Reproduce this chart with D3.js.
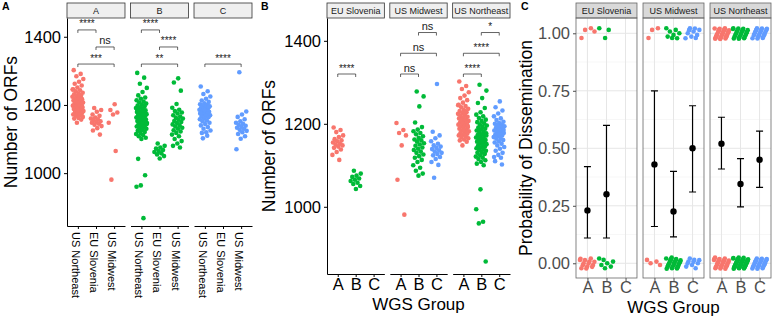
<!DOCTYPE html>
<html>
<head>
<meta charset="utf-8">
<script src="https://cdn.jsdelivr.net/npm/d3@7"></script>
<style>
  body { margin: 0; background: #fff; }
  svg { font-family: "Liberation Sans", Arial, sans-serif; }
</style>
</head>
<body>
<svg id="chart" width="774" height="317"></svg>
<script>
// categories
const groups = ["A", "B", "C"];
const regionsInGroup = ["US Northeast", "EU Slovenia", "US Midwest"];   // x order, panel A
const regionFacets = ["EU Slovenia", "US Midwest", "US Northeast"];     // facet order, panels B and C
const groupColor = { A: "#F8766D", B: "#00BA38", C: "#619CFF" };

// number of ORFs per isolate
const orfNortheastA = [1302, 1291, 1284, 1276, 1268, 1262, 1257, 1251, 1246, 1243, 1240, 1236, 1233, 1231,
  1228, 1226, 1224, 1221, 1219, 1217, 1215, 1213, 1211, 1209, 1207, 1205, 1203, 1202, 1200, 1198, 1196,
  1194, 1192, 1190, 1188, 1186, 1184, 1182, 1180, 1178, 1176, 1174, 1172, 1170, 1168, 1165, 1162, 1160,
  1157, 1148, 1245, 1230, 1210, 1195, 1185];
const orfNortheastB = [1294, 1280, 1262, 1250, 1238, 1228, 1222, 1218, 1214, 1210, 1207, 1204, 1201, 1198,
  1196, 1193, 1191, 1188, 1186, 1184, 1181, 1179, 1177, 1175, 1173, 1171, 1169, 1167, 1165, 1163, 1161,
  1159, 1157, 1155, 1153, 1151, 1149, 1147, 1145, 1143, 1141, 1139, 1137, 1135, 1132, 1130, 1127, 1124,
  1121, 1118, 1115, 1112, 1108, 1104, 1100, 1186, 1172, 1158, 1144, 1128, 1042, 994, 964, 960, 868];
const orfNortheastC = [1254, 1240, 1232, 1225, 1218, 1213, 1209, 1205, 1202, 1200, 1198, 1196, 1194, 1192,
  1190, 1188, 1186, 1184, 1182, 1180, 1178, 1176, 1174, 1172, 1170, 1168, 1166, 1164, 1161, 1158, 1155,
  1152, 1148, 1144, 1140, 1135, 1130, 1125, 1120, 1118, 1195, 1185, 1175, 1110, 1102];
const orfSloveniaA = [1191, 1185, 1180, 1172, 1168, 1163, 1160, 1158, 1155, 1152, 1150, 1148, 1145, 1142,
  1138, 1132, 1125, 1113];
const orfSloveniaB = [1087, 1080, 1075, 1072, 1068, 1065, 1062, 1058, 1055, 1050, 1043];
const orfMidwestA = [1202, 1185, 1178, 1172, 1148, 1065, 981];
const orfMidwestB = [1278, 1266, 1242, 1203, 1192, 1186, 1182, 1178, 1175, 1170, 1166, 1162, 1160, 1157,
  1153, 1150, 1147, 1143, 1140, 1137, 1133, 1130, 1126, 1122, 1118, 1113, 1108, 1100, 1094, 1087, 1080, 1075];
const orfMidwestC = [1296, 1181, 1172, 1165, 1158, 1152, 1148, 1145, 1142, 1139, 1136, 1133, 1130, 1127,
  1124, 1120, 1115, 1108, 1101, 1070];

const orfSets = [
  { region: "US Northeast", group: "A", values: orfNortheastA },
  { region: "US Northeast", group: "B", values: orfNortheastB },
  { region: "US Northeast", group: "C", values: orfNortheastC },
  { region: "EU Slovenia", group: "A", values: orfSloveniaA },
  { region: "EU Slovenia", group: "B", values: orfSloveniaB },
  { region: "US Midwest", group: "A", values: orfMidwestA },
  { region: "US Midwest", group: "B", values: orfMidwestB },
  { region: "US Midwest", group: "C", values: orfMidwestC }
];

const orfTicks = [1000, 1200, 1400];
const bracketLevels = [1320, 1370, 1420];

// pairwise tests, panel A (within WGS group)
const compsByGroup = [
  { facet: "A", a: "US Northeast", b: "EU Slovenia", label: "****", level: 2 },
  { facet: "A", a: "EU Slovenia", b: "US Midwest", label: "ns", level: 1 },
  { facet: "A", a: "US Northeast", b: "US Midwest", label: "***", level: 0 },
  { facet: "B", a: "US Northeast", b: "EU Slovenia", label: "****", level: 2 },
  { facet: "B", a: "EU Slovenia", b: "US Midwest", label: "****", level: 1 },
  { facet: "B", a: "US Northeast", b: "US Midwest", label: "**", level: 0 },
  { facet: "C", a: "US Northeast", b: "US Midwest", label: "****", level: 0 }
];
// pairwise tests, panel B (within region)
const compsByRegion = [
  { facet: "EU Slovenia", a: "A", b: "B", label: "****", level: 0 },
  { facet: "US Midwest", a: "A", b: "B", label: "ns", level: 0 },
  { facet: "US Midwest", a: "A", b: "C", label: "ns", level: 1 },
  { facet: "US Midwest", a: "B", b: "C", label: "ns", level: 2 },
  { facet: "US Northeast", a: "A", b: "B", label: "****", level: 0 },
  { facet: "US Northeast", a: "A", b: "C", label: "****", level: 1 },
  { facet: "US Northeast", a: "B", b: "C", label: "*", level: 2 }
];

// panel C: dissemination (rows = regionFacets, cols = groups)
const dissemYes = [[4, 3, 0], [3, 8, 10], [29, 24, 20]];
const dissemNo = [[14, 7, 0], [4, 27, 10], [27, 46, 25]];
const probMean = [[0.23, 0.30, null], [0.43, 0.225, 0.50], [0.52, 0.345, 0.45]];
const probLow = [[0.11, 0.11, null], [0.16, 0.115, 0.31], [0.41, 0.245, 0.33]];
const probHigh = [[0.42, 0.60, null], [0.75, 0.40, 0.685], [0.635, 0.455, 0.575]];
const probTicks = [0, 0.25, 0.5, 0.75, 1];
const probMinor = [0.125, 0.375, 0.625, 0.875];

const svg = d3.select("#chart");

// deterministic spread for overlapping points, returns -0.5..0.5
function jit(i, seed) {
  return ((i * 0.6180339887 + seed) % 1) - 0.5;
}

function panelLabel(x, t) {
  svg.append("text").attr("x", x).attr("y", 10)
    .attr("font-size", 10.5).attr("font-weight", "bold").text(t);
}

function orfPanel(o) {
  const y = d3.scaleLinear().domain(o.domain).range([o.bottom, o.top]);
  const fx = d3.scaleBand().domain(o.facets).range([o.left, o.right]).paddingInner(o.gap);
  const x = d3.scalePoint().domain(o.cats).range([0, fx.bandwidth()]).padding(0.6);
  const g = svg.append("g");

  o.facets.forEach(f => {
    const fg = g.append("g").attr("transform", `translate(${fx(f)},0)`);

    // strip
    fg.append("rect").attr("x", 0).attr("y", 3).attr("width", fx.bandwidth()).attr("height", 15)
      .attr("fill", "#efefef").attr("stroke", "#333").attr("stroke-width", 0.8);
    fg.append("text").attr("x", fx.bandwidth() / 2).attr("y", 13.5)
      .attr("text-anchor", "middle").attr("font-size", 9).attr("fill", "#1a1a1a").text(f);

    // points
    orfSets.filter(s => s[o.facetKey] === f).forEach((s, k) => {
      fg.selectAll(null).data(s.values).enter().append("circle")
        .attr("cx", (d, i) => x(s[o.catKey]) + jit(i, 0.13 + k * 0.21) * 0.62 * x.step())
        .attr("cy", d => y(d))
        .attr("r", 2.3)
        .attr("fill", groupColor[s.group]);
    });

    // brackets
    o.comps.filter(c => c.facet === f).forEach(c => {
      const yb = y(bracketLevels[c.level]);
      const xa = x(c.a), xb = x(c.b);
      fg.append("path")
        .attr("d", `M${xa},${yb + 3}V${yb}H${xb}V${yb + 3}`)
        .attr("fill", "none").attr("stroke", "#222").attr("stroke-width", 0.7);
      fg.append("text").attr("x", (xa + xb) / 2).attr("y", yb - 2.5)
        .attr("text-anchor", "middle")
        .attr("font-size", c.label === "ns" ? 11 : 10)
        .attr("fill", "#222").text(c.label);
    });

    // x axis
    const ax = fg.append("g").attr("transform", `translate(0,${o.bottom})`)
      .call(d3.axisBottom(x).tickSize(3).tickSizeOuter(0));
    ax.select(".domain").attr("stroke", "#000");
    ax.selectAll("text").attr("fill", "#000").style("font-family", null);
    if (o.rotate) {
      ax.selectAll("text")
        .attr("font-size", 11)
        .attr("y", 0).attr("x", 6)
        .attr("dy", "0.6em")
        .attr("transform", "rotate(90)")
        .attr("text-anchor", "start");
    } else {
      ax.selectAll("text").attr("font-size", 16.5).attr("y", 4);
    }
  });

  // y axis
  const ay = g.append("g").attr("transform", `translate(${o.left},0)`)
    .call(d3.axisLeft(y).tickValues(orfTicks).tickSize(3).tickSizeOuter(0).tickFormat(d3.format("d")));
  ay.selectAll("text").attr("font-size", 16.5).attr("fill", "#000").style("font-family", null);

  svg.append("text")
    .attr("transform", `translate(${o.titleX},${(o.top + o.bottom) / 2}) rotate(-90)`)
    .attr("text-anchor", "middle").attr("font-size", 17.5).text("Number of ORFs");
}

// ---- Panel A ----
panelLabel(2, "A");
orfPanel({
  left: 67, right: 252, top: 18, bottom: 226, gap: 0.087,
  domain: [845, 1455],
  facets: groups, cats: regionsInGroup,
  facetKey: "group", catKey: "region",
  comps: compsByGroup, rotate: true, titleX: 16.5
});

// ---- Panel B ----
panelLabel(261, "B");
orfPanel({
  left: 327, right: 510, top: 18, bottom: 274, gap: 0.087,
  domain: [838, 1455],
  facets: regionFacets, cats: groups,
  facetKey: "region", catKey: "group",
  comps: compsByRegion, rotate: false, titleX: 275
});
svg.append("text").attr("x", 418.5).attr("y", 310).attr("text-anchor", "middle")
  .attr("font-size", 17).text("WGS Group");

// ---- Panel C ----
panelLabel(521, "C");
const cTop = 18, cBottom = 278;
const yC = d3.scaleLinear().domain([-0.064, 1.0665]).range([cBottom, cTop]);
const fxC = d3.scaleBand().domain(regionFacets).range([576, 771]).paddingInner(0.09);
const xC = d3.scalePoint().domain(groups).range([0, fxC.bandwidth()]).padding(0.6);

regionFacets.forEach((f, r) => {
  const fg = svg.append("g").attr("transform", `translate(${fxC(f)},0)`);
  const w = fxC.bandwidth();

  fg.append("rect").attr("x", 0).attr("y", cTop).attr("width", w).attr("height", cBottom - cTop)
    .attr("fill", "#fff");
  fg.selectAll(".minor").data(probMinor).enter().append("line")
    .attr("x1", 0).attr("x2", w).attr("y1", d => yC(d)).attr("y2", d => yC(d))
    .attr("stroke", "#f2f2f2").attr("stroke-width", 0.6);
  fg.selectAll(".major").data(probTicks).enter().append("line")
    .attr("x1", 0).attr("x2", w).attr("y1", d => yC(d)).attr("y2", d => yC(d))
    .attr("stroke", "#e6e6e6").attr("stroke-width", 1);
  fg.selectAll(".vmajor").data(groups).enter().append("line")
    .attr("x1", d => xC(d)).attr("x2", d => xC(d)).attr("y1", cTop).attr("y2", cBottom)
    .attr("stroke", "#e6e6e6").attr("stroke-width", 1);

  // strip
  fg.append("rect").attr("x", 0).attr("y", 3).attr("width", w).attr("height", 15)
    .attr("fill", "#d9d9d9").attr("stroke", "#666").attr("stroke-width", 0.8);
  fg.append("text").attr("x", w / 2).attr("y", 13.5).attr("text-anchor", "middle")
    .attr("font-size", 9).attr("fill", "#1a1a1a").text(f);

  groups.forEach((gname, c) => {
    const pts = [];
    for (let i = 0; i < dissemYes[r][c]; i++) pts.push({ v: 1, i });
    for (let i = 0; i < dissemNo[r][c]; i++) pts.push({ v: 0, i: i + 50 });
    fg.selectAll(null).data(pts).enter().append("circle")
      .attr("cx", d => xC(gname) + jit(d.i, 0.11 + c * 0.3) * 0.8 * xC.step())
      .attr("cy", d => yC(d.v + jit(d.i * 3 + 1, 0.47) * 0.05))
      .attr("r", 2.3)
      .attr("fill", groupColor[gname]);

    if (probMean[r][c] !== null) {
      const cx = xC(gname);
      fg.append("path")
        .attr("d", `M${cx - 3.5},${yC(probHigh[r][c])}H${cx + 3.5}M${cx},${yC(probHigh[r][c])}V${yC(probLow[r][c])}M${cx - 3.5},${yC(probLow[r][c])}H${cx + 3.5}`)
        .attr("fill", "none").attr("stroke", "#000").attr("stroke-width", 1.2);
      fg.append("circle").attr("cx", cx).attr("cy", yC(probMean[r][c])).attr("r", 3.2).attr("fill", "#000");
    }
  });

  fg.append("rect").attr("x", 0).attr("y", cTop).attr("width", w).attr("height", cBottom - cTop)
    .attr("fill", "none").attr("stroke", "#666").attr("stroke-width", 0.8);

  const ax = fg.append("g").attr("transform", `translate(0,${cBottom})`)
    .call(d3.axisBottom(xC).tickSize(3).tickSizeOuter(0));
  ax.select(".domain").remove();
  ax.selectAll("line").attr("stroke", "#4d4d4d");
  ax.selectAll("text").attr("font-size", 16.5).attr("fill", "#4d4d4d").attr("y", 3).style("font-family", null);
});

const ayC = svg.append("g").attr("transform", `translate(576,0)`)
  .call(d3.axisLeft(yC).tickValues(probTicks).tickSize(3).tickSizeOuter(0).tickFormat(d3.format(".2f")));
ayC.select(".domain").remove();
ayC.selectAll("line").attr("stroke", "#4d4d4d");
ayC.selectAll("text").attr("font-size", 16.5).attr("fill", "#4d4d4d").style("font-family", null);

svg.append("text")
  .attr("transform", `translate(532,${(cTop + cBottom) / 2}) rotate(-90)`)
  .attr("text-anchor", "middle").attr("font-size", 17.5).text("Probability of Dissemination");
svg.append("text").attr("x", 673.5).attr("y", 312.5).attr("text-anchor", "middle")
  .attr("font-size", 17).text("WGS Group");
</script>
</body>
</html>
